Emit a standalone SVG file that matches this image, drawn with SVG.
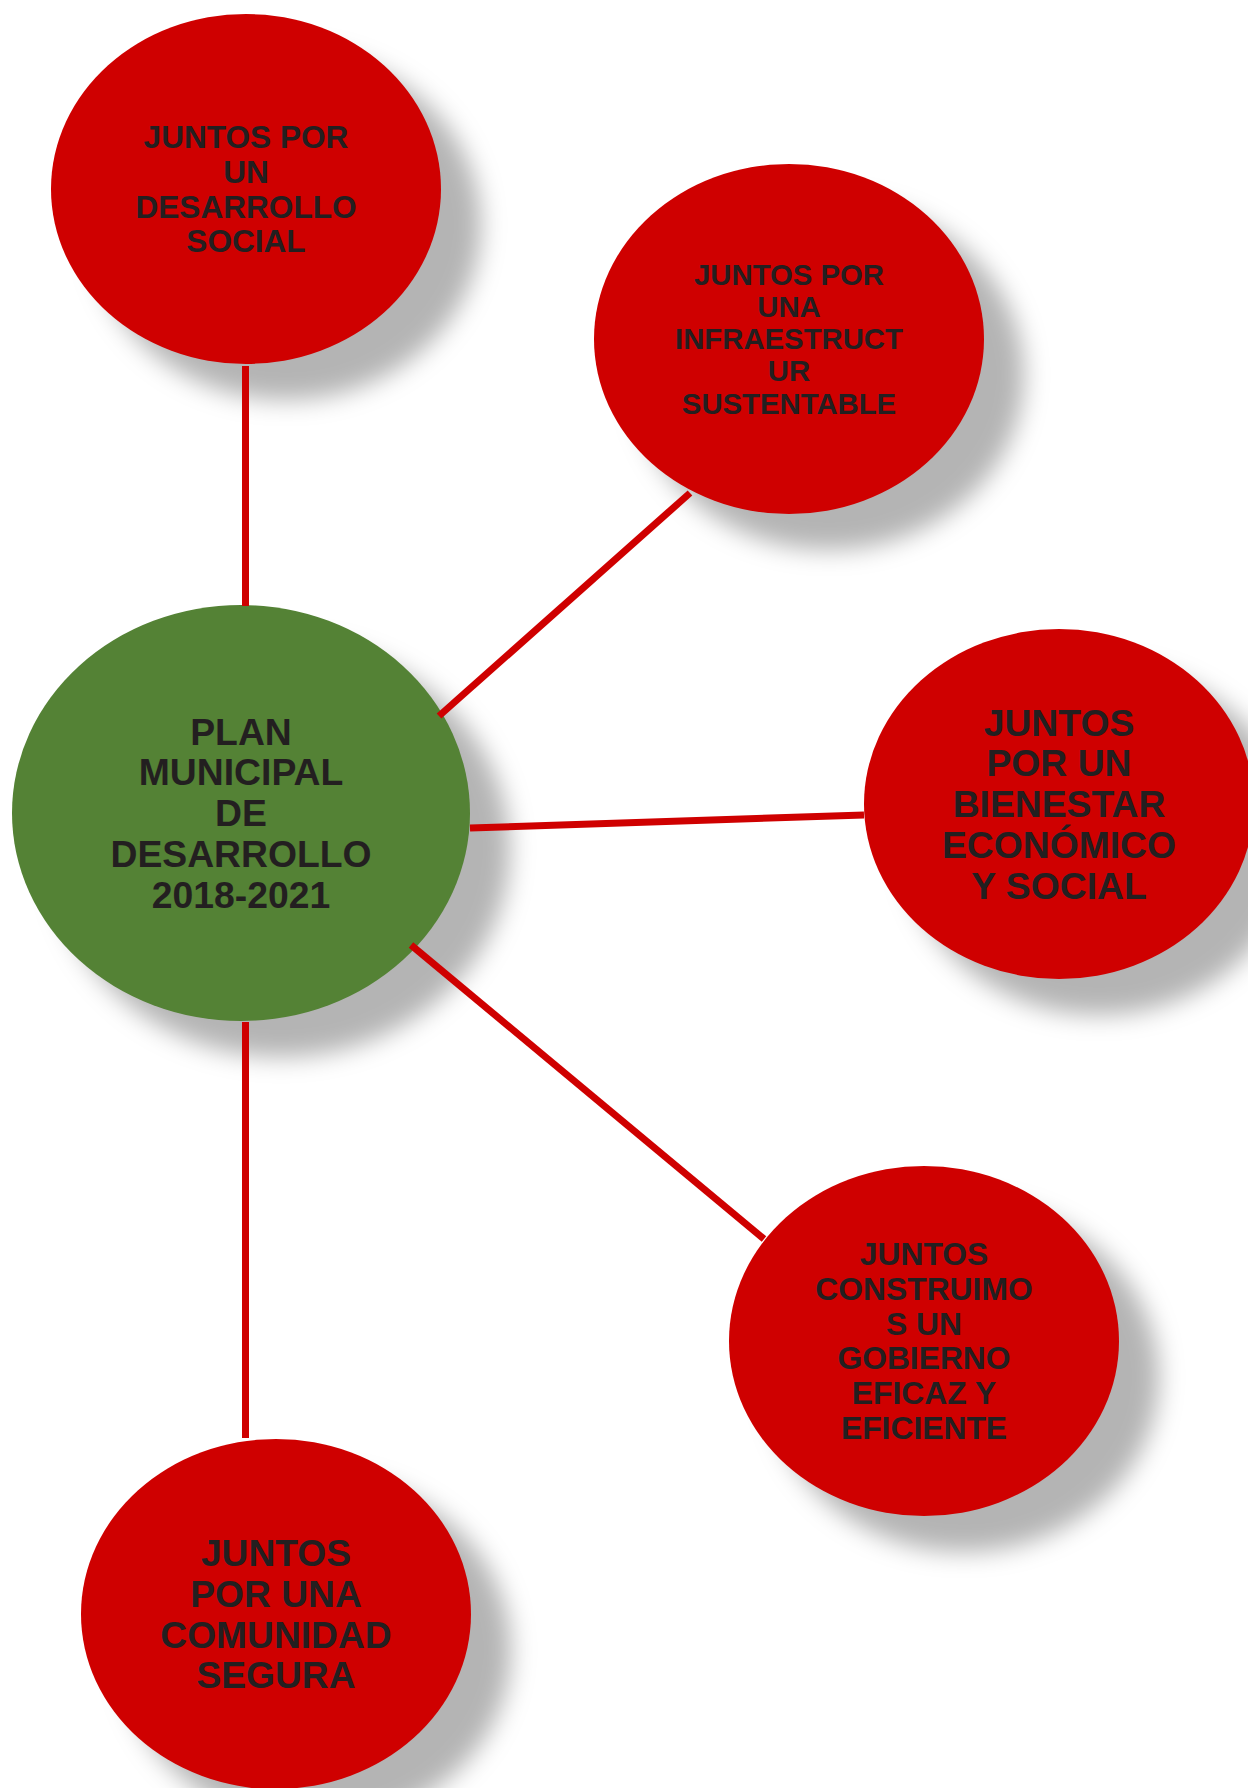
<svg xmlns="http://www.w3.org/2000/svg" width="1248" height="1788" viewBox="0 0 1248 1788">
<style>
.red{fill:#CF0000}
.green{fill:#548235}
.t{font-family:"Liberation Sans",Arial,sans-serif;font-weight:bold;fill:#231F20;text-anchor:middle}
.c{stroke:#CF0000;stroke-width:7;fill:none}
</style>
<defs>
<filter id="sh" x="-20%" y="-20%" width="170%" height="170%" color-interpolation-filters="sRGB">
<feDropShadow dx="40" dy="36" stdDeviation="12" flood-color="#b4b4b4" flood-opacity="1"/>
</filter>
</defs>
<rect width="1248" height="1788" fill="#ffffff"/>
<g id="n-social">
<ellipse class="red" cx="246" cy="189" rx="195" ry="175" filter="url(#sh)"/>
<text class="t" font-size="31.6"><tspan x="246" y="148">JUNTOS POR</tspan><tspan x="246" y="183">UN</tspan><tspan x="246" y="218">DESARROLLO</tspan><tspan x="246" y="252">SOCIAL</tspan></text>
</g>
<g id="n-infra">
<ellipse class="red" cx="789" cy="339" rx="195" ry="175" filter="url(#sh)"/>
<text class="t" font-size="29.3"><tspan x="789" y="285">JUNTOS POR</tspan><tspan x="789" y="317">UNA</tspan><tspan x="789" y="349">INFRAESTRUCT</tspan><tspan x="789" y="381">UR</tspan><tspan x="789" y="414">SUSTENTABLE</tspan></text>
</g>
<g id="n-plan">
<ellipse class="green" cx="241" cy="813" rx="229" ry="208" filter="url(#sh)"/>
<text class="t" font-size="37.3"><tspan x="241" y="745">PLAN</tspan><tspan x="241" y="785">MUNICIPAL</tspan><tspan x="241" y="826">DE</tspan><tspan x="241" y="867">DESARROLLO</tspan><tspan x="241" y="908">2018-2021</tspan></text>
</g>
<g id="n-bienestar">
<ellipse class="red" cx="1059" cy="804" rx="195" ry="175" filter="url(#sh)"/>
<text class="t" font-size="37.3"><tspan x="1059" y="736">JUNTOS</tspan><tspan x="1059" y="776">POR UN</tspan><tspan x="1059" y="817">BIENESTAR</tspan><tspan x="1059" y="858">ECONÓMICO</tspan><tspan x="1059" y="899">Y SOCIAL</tspan></text>
</g>
<g id="n-gobierno">
<ellipse class="red" cx="924" cy="1341" rx="195" ry="175" filter="url(#sh)"/>
<text class="t" font-size="31.8"><tspan x="924" y="1265">JUNTOS</tspan><tspan x="924" y="1300">CONSTRUIMO</tspan><tspan x="924" y="1335">S UN</tspan><tspan x="924" y="1369">GOBIERNO</tspan><tspan x="924" y="1404">EFICAZ Y</tspan><tspan x="924" y="1439">EFICIENTE</tspan></text>
</g>
<g id="n-segura">
<ellipse class="red" cx="276" cy="1614" rx="195" ry="175" filter="url(#sh)"/>
<text class="t" font-size="37.2"><tspan x="276" y="1566">JUNTOS</tspan><tspan x="276" y="1607">POR UNA</tspan><tspan x="276" y="1648">COMUNIDAD</tspan><tspan x="276" y="1688">SEGURA</tspan></text>
</g>
<g id="connectors">
<line class="c" x1="245.5" y1="366" x2="245.5" y2="606"/>
<line class="c" x1="439" y1="716" x2="690" y2="493"/>
<line class="c" x1="470" y1="828" x2="864" y2="815"/>
<line class="c" x1="411" y1="945" x2="764" y2="1239"/>
<line class="c" x1="245.5" y1="1022" x2="245.5" y2="1438"/>
</g>
</svg>
